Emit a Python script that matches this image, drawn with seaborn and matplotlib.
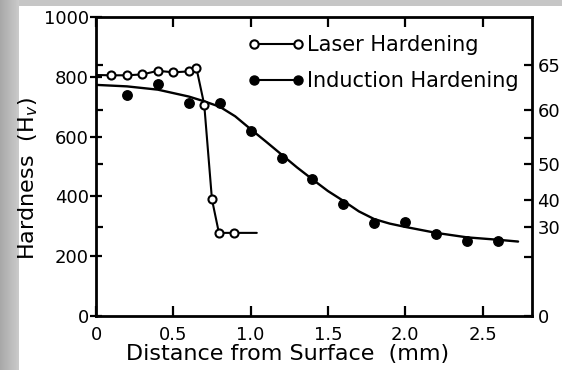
import numpy as np
import pandas as pd
import matplotlib
matplotlib.use("Agg")
import matplotlib.pyplot as plt
from matplotlib.patches import Rectangle
from matplotlib.lines import Line2D
import seaborn as sns

# ---- data ----
laser_x = [0.1, 0.2, 0.3, 0.4, 0.5, 0.6, 0.65, 0.70, 0.75, 0.795, 0.89]
laser_y = [805, 805, 808, 820, 815, 818, 828, 707, 390, 278, 278]
laser_line_x = [0.0, 0.1, 0.2, 0.3, 0.4, 0.5, 0.6, 0.65, 0.70, 0.75, 0.795, 0.89, 1.04]
laser_line_y = [806, 805, 805, 808, 820, 815, 818, 828, 707, 390, 278, 278, 278]

induction_x = [0.2, 0.4, 0.6, 0.8, 1.0, 1.2, 1.4, 1.6, 1.8, 2.0, 2.2, 2.4, 2.6]
induction_y = [740, 777, 711, 714, 618, 527, 459, 375, 312, 314, 274, 251, 251]
induction_fit_x = [0.0, 0.2, 0.4, 0.6, 0.7, 0.8, 0.9, 1.0, 1.1, 1.2, 1.3, 1.4, 1.5, 1.6,
                   1.7, 1.8, 1.9, 2.0, 2.2, 2.4, 2.6, 2.73]
induction_fit_y = [773, 768, 757, 734, 718, 700, 668, 625, 583, 540, 497, 457, 418, 385,
                   350, 324, 309, 298, 278, 263, 255, 249]

x_ticks = [0, 0.5, 1.0, 1.5, 2.0, 2.5]
x_labels = ["0", "0.5", "1.0", "1.5", "2.0", "2.5"]
y_ticks = [0, 200, 400, 600, 800, 1000]
y_labels = ["0", "200", "400", "600", "800", "1000"]
hrc_positions = [840, 690, 595, 510, 387, 297, 198, 0]
hrc_labels = ["65", "60", "", "50", "40", "30", "", "0"]

laser_df = pd.DataFrame({"x": laser_x, "y": laser_y})
laser_line_df = pd.DataFrame({"x": laser_line_x, "y": laser_line_y})
ind_df = pd.DataFrame({"x": induction_x, "y": induction_y})
ind_fit_df = pd.DataFrame({"x": induction_fit_x, "y": induction_fit_y})

sns.set_style("ticks")
plt.rcParams["font.family"] = ["DejaVu Sans"]
plt.rcParams["text.color"] = "black"
plt.rcParams["axes.labelcolor"] = "black"
plt.rcParams["xtick.color"] = "black"
plt.rcParams["ytick.color"] = "black"

W, H = 562, 370
fig = plt.figure(figsize=(W / 100, H / 100), dpi=100, facecolor="white")

# gray frame: top strip and left gradient strip
fig.patches.append(Rectangle((0, 1 - 6 / H), 1, 6 / H, transform=fig.transFigure,
                             facecolor="#c6c6c6", edgecolor="none", zorder=-10))
gax = fig.add_axes([0, 0, 19 / W, 1], zorder=-5)
grad = np.linspace(0.66, 0.79, 19)[None, :] * np.ones((50, 1))
gax.imshow(grad, cmap="gray", vmin=0, vmax=1, aspect="auto", extent=[0, 1, 0, 1])
gax.axis("off")

ax = fig.add_axes([96 / W, 1 - 316 / H, (532 - 96) / W, (316 - 17) / H])
ax.set_facecolor("none")

lw = 1.5
sns.lineplot(data=laser_line_df, x="x", y="y", sort=False, color="black", lw=lw, ax=ax,
             estimator=None)
sns.lineplot(data=ind_fit_df, x="x", y="y", sort=False, color="black", lw=lw + 0.2, ax=ax,
             estimator=None)
ax.plot(laser_df["x"], laser_df["y"], ls="none", marker="o", ms=5.8, mfc="white",
        mec="black", mew=1.5, zorder=5)
ax.plot(ind_df["x"], ind_df["y"], ls="none", marker="o", ms=6.8, mfc="black",
        mec="black", zorder=5)

h1 = Line2D([], [], color="black", lw=lw, marker="o", ms=6, mfc="white", mec="black", mew=1.5)
h2 = Line2D([], [], color="black", lw=lw, marker="o", ms=6.5, mfc="black", mec="black")
ax.legend([h1, h2], ["Laser Hardening", "Induction Hardening"], loc="upper left",
          bbox_to_anchor=(0.348, 0.94), frameon=False, fontsize=15, numpoints=2,
          handlelength=2.7, handletextpad=0.15, labelspacing=0.78, borderpad=0,
          borderaxespad=0)

ax.set_xlim(0, 2.82)
ax.set_ylim(0, 1000)
ax.set_xticks(x_ticks)
ax.set_xticklabels(x_labels)
ax.set_yticks(y_ticks)
ax.set_yticklabels(y_labels)
ax.set_yticks([840, 690, 510, 297], minor=True)
ax.set_xticks([], minor=True)
ax.tick_params(axis="y", which="major", direction="inout", length=8, width=1.6,
               labelsize=13, pad=1)
ax.tick_params(axis="y", which="minor", direction="in", length=5, width=1.6)
ax.tick_params(axis="x", which="major", direction="in", length=7, width=1.6,
               labelsize=13, pad=7, top=True)
for s in ax.spines.values():
    s.set_linewidth(2.0)
    s.set_visible(True)
    s.set_color("black")

ax.set_xlabel("Distance from Surface  (mm)", fontsize=16)
ax.set_ylabel("Hardness  (H$_v$)", fontsize=16)
ax.xaxis.set_label_coords(0.44, -0.095)
ax.yaxis.set_label_coords(-0.128, 0.46)

ax2 = ax.twinx()
ax2.set_ylim(0, 1000)
ax2.set_yticks(hrc_positions)
ax2.set_yticklabels(hrc_labels)
ax2.tick_params(axis="y", direction="in", length=6, width=1.6, labelsize=13, pad=4)
for s in ax2.spines.values():
    s.set_visible(False)

fig.savefig("out.png", dpi=100)
